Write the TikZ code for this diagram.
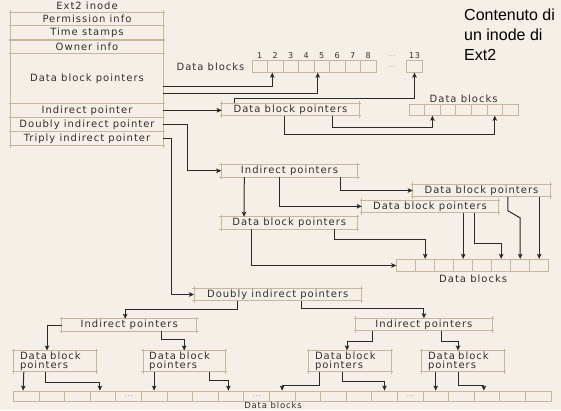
\documentclass[tikz,border=0pt]{standalone}
\usepackage{fontspec}
\setmainfont{DejaVu Sans}[LetterSpace=10]
\newfontfamily\notefont{Liberation Sans}
\usetikzlibrary{arrows.meta,positioning}
\definecolor{paper}{HTML}{F5EFE7}
\definecolor{boxline}{HTML}{C6B69B}
\definecolor{ink}{HTML}{303030}
\definecolor{wirec}{HTML}{2A2A2A}

\begin{document}
\begin{tikzpicture}[x=1pt, y=-1pt,
  every node/.style={inner sep=0pt, text=ink, font=\fontsize{10}{9.5}\selectfont},
  edgeln/.style={draw=boxline, line width=0.9pt},
  tanframe/.style={append after command={
    ([xshift=-2pt]\tikzlastnode.north west) edge[edgeln] ([xshift=2pt]\tikzlastnode.north east)
    ([xshift=-2pt]\tikzlastnode.south west) edge[edgeln] ([xshift=2pt]\tikzlastnode.south east)
    ([yshift=2pt]\tikzlastnode.north west) edge[edgeln] ([yshift=-2pt]\tikzlastnode.south west)
    ([yshift=2pt]\tikzlastnode.north east) edge[edgeln] ([yshift=-2pt]\tikzlastnode.south east)}},
  row/.style={tanframe, minimum width=152pt},
  ptrbox/.style={tanframe, minimum width=136pt, minimum height=12pt},
  smallbox/.style={tanframe, minimum height=21pt, text width=70pt, inner xsep=6pt, align=left},
  cellbox/.style={draw=boxline, line width=0.8pt},
  num/.style={font=\fontsize{8}{8}\selectfont},
  dotlbl/.style={font=\fontsize{7}{7}\selectfont, text=gray!80},
  ptr/.style={draw=wirec, line width=1pt, -{Stealth[length=5pt,width=4.5pt,inset=1pt]}}]

  \fill[paper] (0,0) rectangle (561,410);
  \useasboundingbox (0,0) rectangle (561,410);

  % inode
  \node (title) at (87,6) {Ext2 inode};
  \node [row, minimum height=13.4pt] (perm) at (87,19) {Permission info};
  \node [row, minimum height=14.3pt] (time) at (87,32.85) {Time stamps};
  \node [row, minimum height=13.3pt] (own) at (87,46.65) {Owner info};
  \node [row, minimum height=50pt] (dbp) at (87,78.3) {Data block pointers};
  \node [row, minimum height=14pt] (ind) at (87,110.3) {Indirect pointer};
  \node [row, minimum height=14.4pt] (dind) at (87,124.5) {Doubly indirect pointer};
  \node [row, minimum height=14pt] (tind) at (87,138.7) {Triply indirect pointer};

  \node [anchor=north west, align=left, text=black,
    font=\notefont\fontsize{16}{20}\selectfont] (note) at (464,9) {Contenuto di\\un inode di\\Ext2};

  % direct blocks
  \foreach \i in {1,...,8} {
    \node [cellbox, minimum width=15.5pt, minimum height=11.5pt] (t\i) at ({244.25+15.5*\i},66.5) {};
    \node [num, above=1.5pt of t\i] (tn\i) {\i};
  }
  \node [cellbox, minimum width=15.5pt, minimum height=11.5pt] (t13) at (414.5,66.5) {};
  \node [num, above=1.5pt of t13] (tn13) {13};
  \node [dotlbl] (tdots) at (392,56) {...};
  \node [dotlbl] (tdots2) at (392,67) {...};
  \node [left=7pt of t1] (tlbl) {Data blocks};

  \draw [ptr] ([yshift=-7.7pt]dbp.east) -| ([xshift=-3pt]t2.south);
  \draw [ptr] ([yshift=-14.7pt]dbp.east) -| ([xshift=-4pt]t5.south);

  % indirect
  \node [ptrbox, minimum width=137pt] (ib) at (290.5,109.5) {Data block pointers};
  \foreach \i in {1,...,7}
    \node [cellbox, minimum width=15.6pt, minimum height=10.5pt] (n\i) at ({401.2+15.6*\i},110) {};
  \node [above=2pt of n4] (nlbl) {Data blocks};

  \draw [ptr] (ind.east) -- (ind.east -| ib.west);
  \draw [ptr] ([xshift=13pt]ib.north west) -- ++(0,-5) -| (t13.south);
  \draw [ptr] ([xshift=63pt]ib.south west) -- ++(0,19) -| (n6.south);
  \draw [ptr] ([xshift=111pt]ib.south west) -- ++(0,11.7) -| (n2.south);

  % doubly indirect
  \node [ptrbox] (ip) at (289.5,170.8) {Indirect pointers};
  \node [ptrbox, minimum width=137pt] (dbpR) at (481.5,190.5) {Data block pointers};
  \node [ptrbox] (dbpM) at (430,206.3) {Data block pointers};
  \node [ptrbox] (dbpL) at (289.2,223) {Data block pointers};
  \foreach \i in {1,...,8}
    \node [cellbox, minimum width=19pt, minimum height=12.4pt] (m\i) at ({387.2+19*\i},265.5) {};
  \node [below=3pt of m4.south east] (mlbl) {Data blocks};

  \draw [ptr] (dind.east) -- ++(24,0) |- (ip.west);
  \draw [ptr] ([xshift=23pt]ip.south west) -- ([xshift=23pt]dbpL.north west);
  \draw [ptr] ([xshift=58pt]ip.south west) |- (dbpM.west);
  \draw [ptr] ([xshift=119pt]ip.south west) |- (dbpR.west);
  \draw [ptr] ([xshift=30pt]dbpL.south west) |- (m1.west);
  \draw [ptr] ([xshift=113pt]dbpL.south west) -- ++(0,10.7) -| (m2.north);
  \draw [ptr] (m4.north |- dbpM.south) -- (m4.north);
  \draw [ptr] ([xshift=113pt]dbpM.south west) -- ++(0,31.3) -| (m6.north);
  \draw [ptr] ([xshift=95pt]dbpR.south west) -- ++(0,14) -- ([yshift=41pt]m7.north) -- (m7.north);
  \draw [ptr] (m8.north |- dbpR.south) -- (m8.north);

  % triply indirect
  \node [ptrbox, minimum width=167pt] (dip) at (277.7,294.5) {Doubly indirect pointers};
  \node [ptrbox, minimum width=135pt] (ipL) at (129.2,325) {Indirect pointers};
  \node [ptrbox] (ipR) at (423.9,324.5) {Indirect pointers};
  \node [smallbox] (d1) at (55,361.2) {Data block\\pointers};
  \node [smallbox] (d2) at (184.2,361.2) {Data block\\pointers};
  \node [smallbox] (d3) at (350,361.2) {Data block\\pointers};
  \node [smallbox] (d4) at (463,361.2) {Data block\\pointers};
  \foreach \i in {1,...,21}
    \node [cellbox, minimum width=25.6pt, minimum height=10.7pt] (b\i) at ({0.5+25.6*\i},396.4) {};
  \foreach \i in {5,10,16}
    \node [dotlbl] (bd\i) at (b\i) {...};
  \node [anchor=base, font=\fontsize{8.5}{8.5}\selectfont] (blbl)
    at ([xshift=-9pt, yshift=-6.3pt]b11.south) {Data blocks};

  \draw [ptr] (tind.east) -- ++(8,0) |- (dip.west);
  \draw [ptr] ([xshift=43pt]dip.south west) -- ++(0,8.5) -| ([xshift=-4pt]ipL.north);
  \draw [ptr] ([xshift=107pt]dip.south west) -- ++(0,8) -| (ipR.north);
  \draw [ptr] (ipL.west) -| ([xshift=-8pt]d1.north);
  \draw [ptr] ([xshift=100pt]ipL.south west) -- ++(0,8.6) -| (d2.north);
  \draw [ptr] ([xshift=17pt]ipR.south west) -- ++(0,11) -| ([xshift=-3pt]d3.north);
  \draw [ptr] ([xshift=86pt]ipR.south west) -- ++(0,11) -| ([xshift=-5pt]d4.north);
  \draw [ptr] ([xshift=10pt]d1.south west) -- ([xshift=-3pt]b1.north);
  \draw [ptr] ([xshift=32pt]d1.south west) -- ++(0,11) -| ([xshift=-3pt]b4.north);
  \draw [ptr] (b6.north |- d2.south) -- (b6.north);
  \draw [ptr] ([xshift=66pt]d2.south west) -- ++(0,8.3) -| ([xshift=-2.5pt]b9.north);
  \draw [ptr] ([xshift=11pt]d3.south west) -- ++(0,13.3) -| (b11.north);
  \draw [ptr] ([xshift=34pt]d3.south west) -- ++(0,10) -| (b15.north);
  \draw [ptr] (b17.north |- d4.south) -- (b17.north);
  \draw [ptr] ([xshift=37pt]d4.south west) -- ++(0,13.3) -| ([xshift=-3pt]b19.north);
\end{tikzpicture}
\end{document}
